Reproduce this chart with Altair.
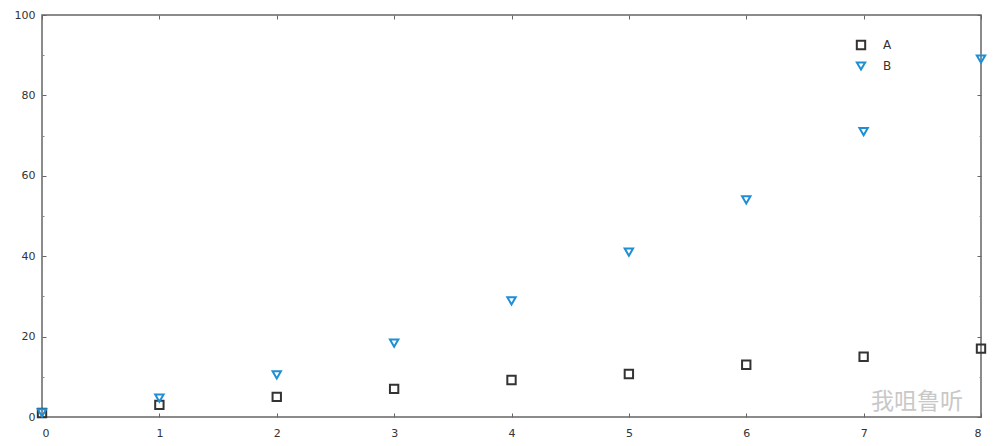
import altair as alt
import pandas as pd

xs = [0, 1, 2, 3, 4, 5, 6, 7, 8]
series_a = [1, 3, 5, 7, 9.2, 10.7, 13, 15, 17]
series_b = [1, 4.7, 10.5, 18.4, 28.9, 41, 54, 71, 89]
series_names = ["A", "B"]
x_ticks = [0, 1, 2, 3, 4, 5, 6, 7, 8]
y_ticks = [0, 20, 40, 60, 80, 100]
y_minor = [10, 30, 50, 70, 90]
watermark = "我咀鲁听"

rows = []
for x, a, b in zip(xs, series_a, series_b):
    rows.append({"x": x, "y": a, "s": "A"})
    rows.append({"x": x, "y": b, "s": "B"})
df = pd.DataFrame(rows)

FONT = "DejaVu Sans"
W, H = 939, 402

xscale = alt.Scale(domain=[0, 8], nice=False, zero=False)
yscale = alt.Scale(domain=[0, 100], nice=False)

points = alt.Chart(df).mark_point(filled=False, size=70, strokeWidth=2, opacity=1).encode(
    x=alt.X("x:Q", scale=xscale, title=None,
            axis=alt.Axis(orient="bottom", values=x_ticks, tickSize=4, offset=-4, domain=False,
                          grid=False, labelPadding=10, labelFont=FONT, labelFontSize=11,
                          labelColor="#333", tickColor="#666", format="d")),
    y=alt.Y("y:Q", scale=yscale, title=None,
            axis=alt.Axis(orient="left", values=y_ticks, tickSize=4, offset=-4, domain=False,
                          grid=False, labelPadding=7, labelFont=FONT, labelFontSize=11,
                          labelColor="#333", tickColor="#666", format="d")),
    color=alt.Color("s:N", scale=alt.Scale(domain=series_names, range=["#333333", "#1e8fd5"]),
                    legend=alt.Legend(orient="none", legendX=813, legendY=24, title=None,
                                      labelFont=FONT, labelFontSize=12, labelColor="#333",
                                      symbolStrokeWidth=2, symbolSize=70, rowPadding=4,
                                      labelOffset=16)),
    shape=alt.Shape("s:N", scale=alt.Scale(domain=series_names, range=["square", "triangle-down"]),
                    legend=None),
)

mirror = alt.Chart(df).mark_point(opacity=0).encode(
    x=alt.X("x:Q", scale=xscale, title=None,
            axis=alt.Axis(orient="top", values=x_ticks, tickSize=4, offset=-4, domain=False,
                          grid=False, labels=False, tickColor="#666")),
    y=alt.Y("y:Q", scale=yscale, title=None,
            axis=alt.Axis(orient="right", values=y_ticks, tickSize=4, offset=-4, domain=False,
                          grid=False, labels=False, tickColor="#666")),
)

minor_l = alt.Chart(df).mark_point(opacity=0).encode(
    x=alt.X("x:Q", scale=xscale, axis=None),
    y=alt.Y("y:Q", scale=yscale, title=None,
            axis=alt.Axis(orient="left", values=y_minor, tickSize=2, offset=-2, domain=False,
                          grid=False, labels=False, tickColor="#888")),
)
minor_r = alt.Chart(df).mark_point(opacity=0).encode(
    x=alt.X("x:Q", scale=xscale, axis=None),
    y=alt.Y("y:Q", scale=yscale, title=None,
            axis=alt.Axis(orient="right", values=y_minor, tickSize=2, offset=-2, domain=False,
                          grid=False, labels=False, tickColor="#888")),
)

wm = alt.Chart(pd.DataFrame({"t": [watermark]})).mark_text(
    font="Noto Sans CJK SC", fontSize=23, color="#c8c8c8", align="left", baseline="middle"
).encode(text="t:N", x=alt.value(829), y=alt.value(387))

chart = alt.layer(points, mirror, minor_l, minor_r, wm).resolve_axis(
    x="independent", y="independent"
).properties(
    width=W, height=H,
    autosize=alt.AutoSizeParams(type="none"),
    padding={"left": 34, "top": 7, "right": 11, "bottom": 23},
).configure_view(stroke="#666", strokeWidth=1.5)

chart.save("out.html", embed_options={"renderer": "svg", "actions": False})
